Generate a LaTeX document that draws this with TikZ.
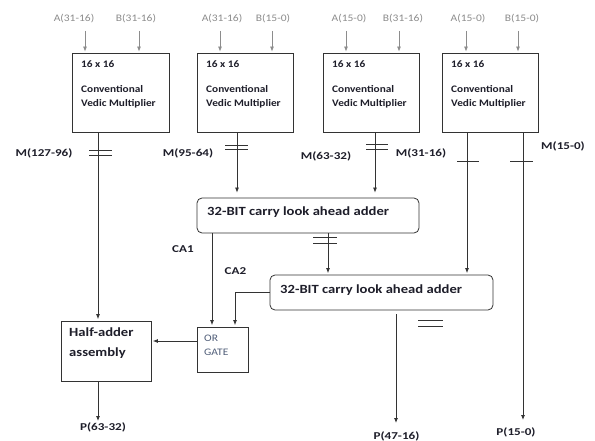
\documentclass[tikz,border=0pt]{standalone}
\usepackage{fontspec}
\setmainfont{Carlito}
\newfontfamily\fA{Carlito}[FakeStretch=1.15]
\newfontfamily\fB{Carlito}[FakeStretch=1.13]
\newfontfamily\fM{Carlito}[FakeStretch=1.25]
\newfontfamily\fH{Carlito}[FakeStretch=1.17]
\usetikzlibrary{arrows.meta}
\definecolor{lab}{HTML}{8C8C8C}
\definecolor{ink}{HTML}{1E1E2A}
\definecolor{orc}{HTML}{4F5D78}
\definecolor{ln}{HTML}{333333}
\begin{document}
\begin{tikzpicture}[x=1pt,y=-1pt,
  box/.style={draw=ln, line width=0.8pt, inner sep=0pt},
  cla/.style={box, rounded corners=5pt, minimum height=35pt},
  garr/.style={draw=lab, line width=0.8pt, -{Latex[length=5pt,width=4pt]}, shorten >=1pt},
  arr/.style={draw=ln, line width=0.8pt, -{Latex[length=5pt,width=4pt]}, shorten >=1.5pt},
  hash/.style={draw=ln, line width=0.7pt},
  inlab/.style={text=lab, font=\fA\fontsize{10}{12}\selectfont, anchor=base, inner sep=0pt},
  boxtxt/.style={text=ink, font=\fB\bfseries\fontsize{10}{12}\selectfont, anchor=base west, inner sep=0pt},
  mlab/.style={text=ink, font=\fM\bfseries\fontsize{10.5}{12}\selectfont, anchor=base, inner sep=0pt},
  clatxt/.style={text=ink, font=\fH\bfseries\fontsize{12.5}{14}\selectfont, anchor=base west, inner sep=0pt},
  hatxt/.style={text=ink, font=\fH\bfseries\fontsize{12.5}{15}\selectfont, anchor=base west, inner sep=0pt},
  ortxt/.style={text=orc, font=\fA\fontsize{10}{12}\selectfont, anchor=base west, inner sep=0pt}
]
\fill[white] (0,0) rectangle (595,441);
\path[use as bounding box] (0,0) rectangle (595,441);

% multiplier boxes
\node[box, minimum width=97pt, minimum height=79pt] (m1) at (120.5,92.5) {};
\node[box, minimum width=96pt, minimum height=79pt] (m2) at (245,92.5) {};
\node[box, minimum width=96pt, minimum height=79pt] (m3) at (371,92.5) {};
\node[box, minimum width=96pt, minimum height=79pt] (m4) at (490,92.5) {};
\foreach \i/\x in {1/72,2/197,3/323,4/442}{
  \node[boxtxt] (ta\i) at (\x+9,67.7) {16 x 16};
  \node[boxtxt] (tb\i) at (\x+9,92.7) {Conventional};
  \node[boxtxt] (tc\i) at (\x+9,106.7) {Vedic Multiplier};
}

% inputs
\node[inlab] (la1) at (74,22) {A(31-16)};
\node[inlab] (lb1) at (136,22) {B(31-16)};
\node[inlab] (la2) at (222,22) {A(31-16)};
\node[inlab] (lb2) at (273,22) {B(15-0)};
\node[inlab] (la3) at (349,22) {A(15-0)};
\node[inlab] (lb3) at (403,22) {B(31-16)};
\node[inlab] (la4) at (468,22) {A(15-0)};
\node[inlab] (lb4) at (522,22) {B(15-0)};
\coordinate (ia1) at (85,31);  \coordinate (ib1) at (139,31);
\coordinate (ia2) at (220,31); \coordinate (ib2) at (272,31);
\coordinate (ia3) at (346,31); \coordinate (ib3) at (399,31);
\coordinate (ia4) at (466,31); \coordinate (ib4) at (518,31);
\foreach \i in {1,2,3,4}{
  \draw[garr] (ia\i) -- (ia\i |- m\i.north);
  \draw[garr] (ib\i) -- (ib\i |- m\i.north);
}

% adders and gates
\node[cla, minimum width=222pt] (c1) at (308,215.5) {};
\node[clatxt] (c1t) at (207,216) {32-BIT carry look ahead adder};
\node[cla, minimum width=223pt] (c2) at (381.5,292.5) {};
\node[clatxt] (c2t) at (280,293) {32-BIT carry look ahead adder};
\node[box, minimum width=51pt, minimum height=45pt] (or) at (222.5,349.5) {};
\node[ortxt] (ort1) at (204,341.7) {OR};
\node[ortxt] (ort2) at (204,355.7) {GATE};
\node[box, minimum width=90pt, minimum height=60pt] (ha) at (106,351) {};
\node[hatxt] (hat1) at (69,336.7) {Half-adder};
\node[hatxt] (hat2) at (69,356) {assembly};

% multiplier outputs
\draw[arr] (98,0 |- m1.south) -- (98,0 |- ha.north);
\draw[arr, shorten >=5pt] (237,0 |- m2.south) -- (237,0 |- c1.north);
\draw[arr, shorten >=5pt] (375,0 |- m3.south) -- (375,0 |- c1.north);
\draw[arr] (467,0 |- m4.south) -- (467,0 |- c2.north);
\coordinate (p3) at (523,420);
\draw[arr, shorten >=0pt] (523,0 |- m4.south) -- (p3);

% adder connections
\draw[arr] (328,0 |- c1.south) -- (328,0 |- c2.north);
\draw[arr] (212,0 |- c1.south) -- (212,0 |- or.north);
\draw[arr] (c2.west) -| (235,0 |- or.north);
\draw[arr] (or.west |- 0,341) -- (ha.east |- 0,341);
\coordinate (p1) at (98,421);
\draw[arr, shorten >=0pt] (ha.south -| 98,0) -- (p1);
\coordinate (p2) at (396,423);
\draw[arr, shorten >=0pt, shorten <=4pt] (396,0 |- c2.south) -- (p2);

% bus hash marks
\draw[hash] (89,150) -- (112,150) (89,155) -- (112,155);
\draw[hash] (225,145) -- (248,145) (225,149.5) -- (248,149.5);
\draw[hash] (366,144.5) -- (388,144.5) (366,149) -- (388,149);
\draw[hash] (457,161) -- (479,161);
\draw[hash] (510,161) -- (533,161);
\draw[hash] (313,237) -- (337,237) (313,243) -- (337,243);
\draw[hash] (418,320) -- (443,320) (418,326) -- (443,326);

% labels
\node[mlab] (lm1) at (44,156.5) {M(127-96)};
\node[mlab] (lm2) at (188,157) {M(95-64)};
\node[mlab] (lm3) at (326,160) {M(63-32)};
\node[mlab] (lm4) at (421,157) {M(31-16)};
\node[mlab] (lm5) at (563,150) {M(15-0)};
\node[mlab] (lca1) at (183,252.7) {CA1};
\node[mlab] (lca2) at (235.5,274) {CA2};
\node[mlab] (lp1) at (103,430) {P(63-32)};
\node[mlab] (lp2) at (396.5,439.5) {P(47-16)};
\node[mlab] (lp3) at (516,435) {P(15-0)};
\end{tikzpicture}
\end{document}
